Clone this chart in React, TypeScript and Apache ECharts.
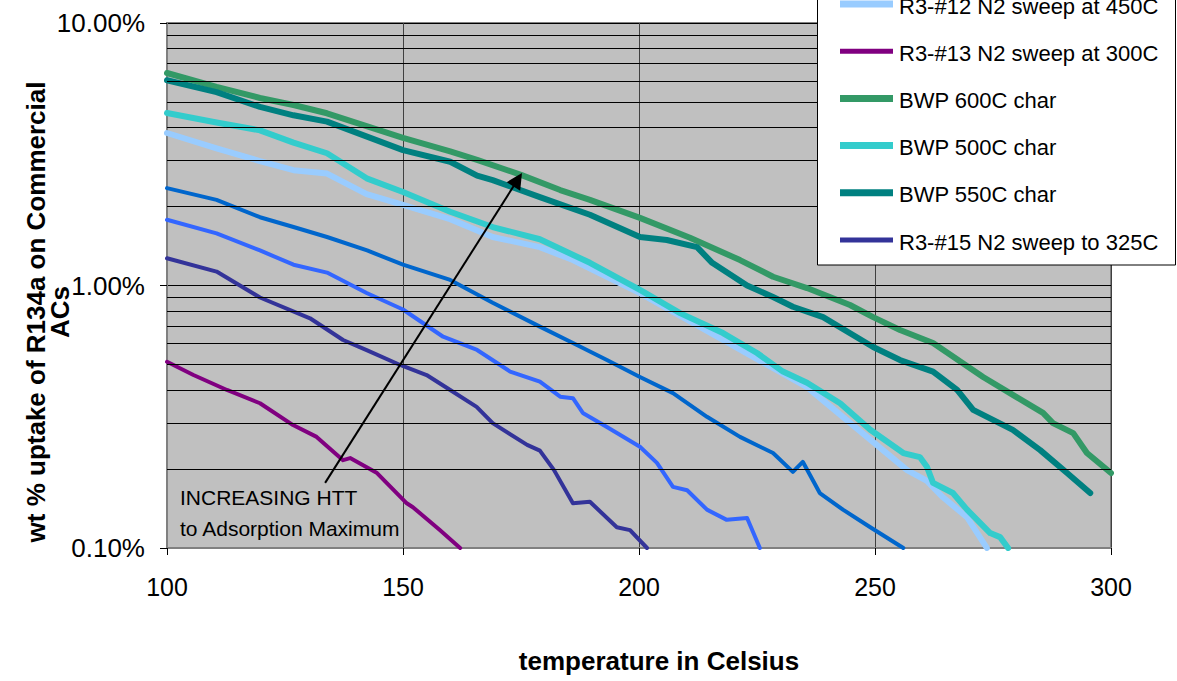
import React, { useEffect, useRef } from "react";
import * as echarts from "echarts";

// ---- data (temperature in °C, uptake in wt %) ----
const xMin = 100;
const xMax = 300;
const xInterval = 50;
const yMin = 0.1;
const yMax = 10;
const minorGridValues = [0.2, 0.3, 0.4, 0.5, 0.6, 0.7, 0.8, 0.9, 2, 3, 4, 5, 6, 7, 8, 9];

const seriesNames = [
  "Series 1",
  "Series 2",
  "R3-#12 N2 sweep at 450C",
  "R3-#13 N2 sweep at 300C",
  "BWP 600C char",
  "BWP 500C char",
  "BWP 550C char",
  "R3-#15 N2 sweep to 325C",
];
const seriesColors = ["#0066CC", "#3366FF", "#99CCFF", "#800080", "#339966", "#33CCCC", "#008080", "#333399"];
const seriesWidths = [4, 4, 6, 4, 6, 6, 6, 4];
const legendVisible = [2, 3, 4, 5, 6, 7];

const blue0066: [number, number][] = [
  [100, 2.35], [110.5, 2.12], [119.7, 1.82], [126.8, 1.67], [133.9, 1.53], [142.4, 1.36], [150, 1.2],
  [160, 1.05], [169, 0.86], [179, 0.697], [186, 0.604], [193.2, 0.52], [200.2, 0.448], [207.2, 0.389],
  [214.4, 0.316], [221.4, 0.265], [228.4, 0.23], [232.6, 0.195], [234.7, 0.213], [238.3, 0.162],
  [243.2, 0.14], [249, 0.12], [256, 0.1],
];
const blue3366: [number, number][] = [
  [100, 1.78], [110.5, 1.58], [119.7, 1.36], [126.8, 1.2], [133.9, 1.12], [142.3, 0.936], [150, 0.81],
  [158.5, 0.638], [165.7, 0.568], [172.7, 0.47], [179, 0.43], [183.3, 0.377], [186, 0.372], [188.1, 0.327],
  [193.2, 0.289], [200.2, 0.243], [203.8, 0.211], [207.2, 0.171], [210.2, 0.166], [214.4, 0.14],
  [218.6, 0.128], [222.9, 0.13], [225.6, 0.1],
];
const r3n12: [number, number][] = [
  [100, 3.81], [110.5, 3.33], [119.7, 2.98], [126.8, 2.75], [133.9, 2.67], [142.3, 2.23], [150, 2.03],
  [160, 1.79], [169, 1.53], [179, 1.4], [186, 1.25], [200.2, 0.936], [217.8, 0.62], [235.6, 0.41],
  [248.3, 0.265], [256.8, 0.198], [261, 0.18], [264.4, 0.156], [269.5, 0.131], [273.7, 0.1],
];
const r3n13: [number, number][] = [
  [100, 0.512], [105.6, 0.456], [112.7, 0.4], [119.7, 0.356], [126.7, 0.294], [131.7, 0.265],
  [137.3, 0.216], [138.8, 0.22], [144.5, 0.193], [150.8, 0.148], [152.1, 0.143], [157.8, 0.117], [162.1, 0.1],
];
const bwp600: [number, number][] = [
  [100, 6.45], [110.5, 5.71], [119.7, 5.18], [126.8, 4.87], [133.9, 4.53], [150, 3.65], [160, 3.24],
  [165.7, 3.01], [175, 2.64], [183.3, 2.31], [189.6, 2.12], [200.2, 1.81], [210.8, 1.52], [221.4, 1.25],
  [228.4, 1.08], [235.6, 0.978], [244.7, 0.843], [249.6, 0.758], [255.3, 0.677], [262.3, 0.604],
  [272.9, 0.448], [279.2, 0.383], [285.6, 0.327], [287.7, 0.299], [292, 0.274], [294.9, 0.23], [300, 0.193],
];
const bwp500: [number, number][] = [
  [100, 4.54], [110.5, 4.18], [119.7, 3.9], [126.8, 3.5], [133.9, 3.19], [142.3, 2.56], [150, 2.27],
  [160, 1.91], [169, 1.67], [179, 1.5], [189.6, 1.22], [200.2, 0.962], [208.7, 0.785], [217.8, 0.659],
  [225, 0.553], [230.5, 0.47], [235.6, 0.426], [242.6, 0.356], [249, 0.282], [256, 0.23], [259.5, 0.222],
  [261, 0.204], [262.3, 0.177], [266.5, 0.162], [269.5, 0.14], [274.4, 0.114], [276.5, 0.11], [278.2, 0.1],
];
const bwp550: [number, number][] = [
  [100, 6.05], [110.5, 5.45], [119.7, 4.79], [126.8, 4.45], [133.9, 4.21], [150, 3.28], [160, 2.96],
  [165.7, 2.62], [169, 2.52], [179, 2.17], [189.6, 1.86], [200.2, 1.53], [205.9, 1.49], [212.3, 1.4],
  [215.5, 1.22], [222.9, 1.0], [228.4, 0.904], [232.6, 0.83], [239, 0.758], [249.6, 0.583], [255.3, 0.52],
  [262.3, 0.47], [267.4, 0.4], [270.8, 0.336], [279.2, 0.282], [285, 0.236], [290.7, 0.193], [295.6, 0.162],
];
const r3n15: [number, number][] = [
  [100, 1.27], [110.5, 1.13], [119.7, 0.9], [130.3, 0.75], [137.3, 0.62], [142.3, 0.567], [149.4, 0.498],
  [155, 0.456], [160, 0.4], [165.6, 0.345], [169, 0.299], [176.3, 0.247], [179, 0.235], [182, 0.198],
  [186, 0.148], [189.6, 0.15], [195.3, 0.12], [198.1, 0.117], [201.7, 0.1],
];
const seriesData = [blue0066, blue3366, r3n12, r3n13, bwp600, bwp500, bwp550, r3n15];

const arrowStart: [number, number] = [133.5, 0.177];
const arrowEnd: [number, number] = [174.3, 2.53];
const annotationText = "INCREASING HTT\nto Adsorption Maximum";
const xTitle = "temperature in Celsius";
const yTitle = "wt % uptake of R134a on Commercial\nACs";

const FONT = '"Liberation Sans", Arial, sans-serif';

export default function App() {
  const ref = useRef<HTMLDivElement>(null);
  useEffect(() => {
    if (!ref.current) return;
    const chart = echarts.init(ref.current, undefined, { renderer: "svg" });

    const legendGraphics: any[] = [
      {
        type: "rect",
        z: 10,
        shape: { x: 817.5, y: -160, width: 358, height: 425 },
        style: { fill: "#ffffff", stroke: "#000000", lineWidth: 1 },
      },
    ];
    legendVisible.forEach((si, i) => {
      const ly = 4 + i * 47.2;
      legendGraphics.push({
        type: "line",
        z: 11,
        shape: { x1: 840, y1: ly, x2: 893, y2: ly },
        style: { stroke: seriesColors[si], lineWidth: seriesWidths[si] + 1 },
      });
      legendGraphics.push({
        type: "text",
        z: 11,
        x: 899,
        y: ly + 2,
        style: { text: seriesNames[si], font: `22px ${FONT}`, fill: "#000", verticalAlign: "middle" },
      });
    });

    const lineSeries = seriesData.map((d, i) => ({
      type: "line",
      name: seriesNames[i],
      data: d,
      symbol: "none",
      showSymbol: false,
      smooth: false,
      z: 2,
      lineStyle: { color: seriesColors[i], width: seriesWidths[i], cap: "round", join: "round" },
      itemStyle: { color: seriesColors[i] },
      emphasis: { disabled: true },
    }));

    chart.setOption({
      animation: false,
      backgroundColor: "#ffffff",
      textStyle: { fontFamily: FONT },
      grid: {
        left: 167,
        top: 23,
        right: 66,
        bottom: 133,
        show: true,
        backgroundColor: "#C0C0C0",
        borderColor: "#808080",
        borderWidth: 2,
      },
      xAxis: {
        type: "value",
        min: xMin,
        max: xMax,
        interval: xInterval,
        axisLine: { show: true, lineStyle: { color: "#808080", width: 2 } },
        axisTick: { show: true, length: 7, lineStyle: { color: "#000" } },
        axisLabel: { fontSize: 25, color: "#000", margin: 26, fontFamily: FONT },
        splitLine: { show: true, lineStyle: { color: "#404040", width: 1 } },
        name: xTitle,
        nameLocation: "middle",
        nameGap: 100,
        nameTextStyle: { fontSize: 26, fontWeight: "bold", color: "#000", fontFamily: FONT, padding: [0, 0, 0, 40] },
      },
      yAxis: {
        type: "log",
        logBase: 10,
        min: yMin,
        max: yMax,
        axisLine: { show: true, lineStyle: { color: "#808080", width: 2 } },
        axisTick: { show: true, length: 7, lineStyle: { color: "#000" } },
        axisLabel: {
          fontSize: 26,
          color: "#000",
          margin: 22,
          fontFamily: FONT,
          formatter: (v: number) => v.toFixed(2) + "%",
        },
        splitLine: { show: true, lineStyle: { color: "#000", width: 1 } },
      },
      graphic: [
        {
          type: "text",
          x: 48,
          y: 312,
          rotation: Math.PI / 2,
          style: {
            text: yTitle,
            font: `bold 26px ${FONT}`,
            fill: "#000",
            align: "center",
            verticalAlign: "middle",
            lineHeight: 24,
          },
        },
        {
          type: "text",
          z: 5,
          x: 180,
          y: 512.5,
          style: {
            text: annotationText,
            font: `21px ${FONT}`,
            fill: "#000",
            verticalAlign: "middle",
            lineHeight: 31,
          },
        },
        ...legendGraphics,
      ],
      series: [
        {
          type: "line",
          name: "minor-grid",
          data: [],
          z: 1,
          silent: true,
          markLine: {
            silent: true,
            symbol: ["none", "none"],
            label: { show: false },
            lineStyle: { color: "#000", width: 1, type: "solid" },
            emphasis: { disabled: true },
            data: minorGridValues.map((v) => ({ yAxis: v })),
          },
        },
        ...lineSeries,
        {
          type: "line",
          name: "arrow",
          data: [],
          z: 4,
          silent: true,
          markLine: {
            silent: true,
            symbol: ["none", "triangle"],
            symbolSize: 16,
            label: { show: false },
            lineStyle: { color: "#000", width: 2, type: "solid" },
            emphasis: { disabled: true },
            data: [[{ coord: arrowStart }, { coord: arrowEnd }]],
          },
        },
      ],
    });
    return () => chart.dispose();
  }, []);
  return <div ref={ref} style={{ position: "absolute", left: 0, top: 0, width: 1177, height: 681 }} />;
}
